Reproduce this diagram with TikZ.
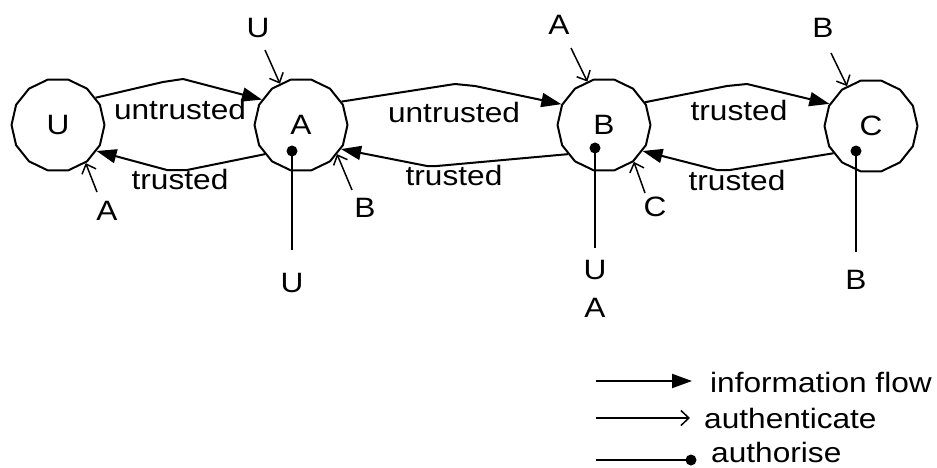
\documentclass[tikz,border=0pt]{standalone}
\usepackage{fontspec}
\setmainfont[FakeStretch=1.13]{Liberation Sans}
\usetikzlibrary{arrows.meta,shapes.geometric}
\begin{document}
\begin{tikzpicture}[x=1pt,y=-1pt,line join=round,
  state/.style={draw,line width=2pt,regular polygon,regular polygon sides=14,minimum size=93pt,inner sep=0pt,font=\fontsize{28}{32}\selectfont},
  lbl/.style={inner sep=0pt,font=\fontsize{28}{32}\selectfont},
  flow/.style={line width=2pt,-{Triangle[length=20pt,width=14pt]}},
  authn/.style={line width=1.5pt,-{Straight Barb[length=8pt,width=15pt]}},
  authz/.style={line width=2pt},
  dotn/.style={circle,fill,inner sep=0pt,minimum size=11pt},
]
\useasboundingbox (0,0) rectangle (937,468);
% states
\node[state] (U) at (58,125) {U};
\node[state] (A) at (301,125) {A};
\node[state] (B) at (604,125) {B};
\node[state] (C) at (871,126) {C};
% information flows
\draw[flow] (U.36) -- (163,82) -- (183,79) -- (A.147);
\draw[flow] (A.219) -- (187,170) -- (167,170) -- (U.-34);
\draw[flow] (A.30) -- (455,84) -- (475,86) -- (B.154);
\draw[flow] (B.219) -- (437,166) -- (427,166) -- (A.-31);
\draw[flow] (B.29) -- (727,86) -- (747,84) -- (C.152);
\draw[flow] (C.216) -- (730,170) -- (717,170) -- (B.-34);
\node[lbl] (l1) at (180,109) {untrusted};
\node[lbl] (l2) at (180,179) {trusted};
\node[lbl] (l3) at (454,112) {untrusted};
\node[lbl] (l4) at (454,175) {trusted};
\node[lbl] (l5) at (739,110) {trusted};
\node[lbl] (l6) at (737,180) {trusted};
% authentication
\node[lbl] (nUA) at (258,28) {U};
\node[lbl] (nAU) at (107,211) {A};
\node[lbl] (nBA) at (365,208) {B};
\node[lbl] (nAB) at (559,25) {A};
\node[lbl] (nCB) at (655,207) {C};
\node[lbl] (nBC) at (823,28) {B};
\coordinate (sUA) at (265,50);
\coordinate (sAU) at (97,192);
\coordinate (sBA) at (352,190);
\coordinate (sAB) at (571,48);
\coordinate (sCB) at (645,193);
\coordinate (sBC) at (831,53);
\draw[authn] (sUA) -- (A.117);
\draw[authn] (sAU) -- (U.-54);
\draw[authn] (sBA) -- (A.-39);
\draw[authn] (sAB) -- (B.111);
\draw[authn] (sCB) -- (B.-51);
\draw[authn] (sBC) -- (C.121);
% authorisation
\node[dotn] (dA) at (292,151) {};
\node[dotn] (dB) at (595,148) {};
\node[dotn] (dC) at (856,151) {};
\coordinate (eA) at (292,250);
\coordinate (eB) at (595,248);
\coordinate (eC) at (856,252);
\draw[authz] (eA) -- (dA.center);
\draw[authz] (eB) -- (dB.center);
\draw[authz] (eC) -- (dC.center);
\node[lbl] (zA) at (292,283) {U};
\node[lbl] (zB1) at (595,270) {U};
\node[lbl] (zB2) at (595,308) {A};
\node[lbl] (zC) at (856,280) {B};
% legend
\coordinate (k1a) at (596,381);
\coordinate (k1b) at (692,381);
\coordinate (k2a) at (596,418);
\coordinate (k2b) at (690,418);
\coordinate (k3a) at (596,460);
\node[dotn] (k3b) at (691,460) {};
\draw[flow] (k1a) -- (k1b);
\draw[authn] (k2a) -- (k2b);
\draw[authz] (k3a) -- (k3b.center);
\node[lbl,anchor=base west,text depth=0pt] (t1) at (710,392) {information flow};
\node[lbl,anchor=base west,text depth=0pt] (t2) at (704,428) {authenticate};
\node[lbl,anchor=base west,text depth=0pt] (t3) at (711,462) {authorise};
\end{tikzpicture}
\end{document}
